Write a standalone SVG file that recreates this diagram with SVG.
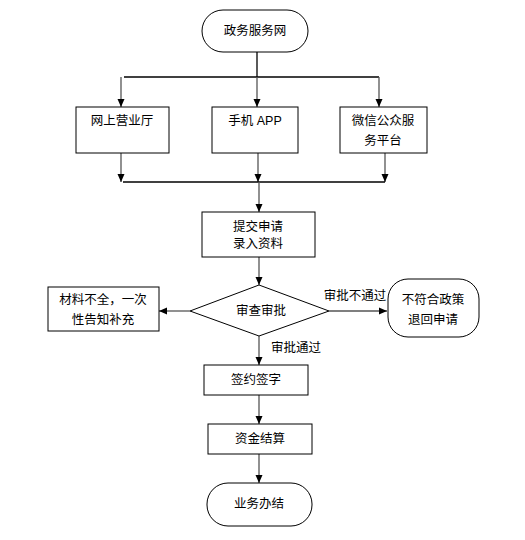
<svg xmlns="http://www.w3.org/2000/svg" width="525" height="540" viewBox="0 0 525 540">
<defs>
<marker id="ah" viewBox="0 0 8 8" refX="8" refY="4" markerWidth="8" markerHeight="8" markerUnits="userSpaceOnUse" orient="auto">
<path d="M0,0.5 L8,4 L0,7.5 Z" fill="#000"/>
</marker>
</defs>
<style>
.n{fill:#fff;stroke:#000;stroke-width:1}
.t{font-family:"Liberation Sans","Noto Sans CJK SC",sans-serif;font-size:12.5px;fill:#000;text-anchor:middle}
.c{fill:none;stroke:#555;stroke-width:1.3}
.k{fill:none;stroke:#000;stroke-width:1.3}
</style>
<rect width="525" height="540" fill="#fff"/>
<g id="connectors">
<path class="k" d="M257,52 V77"/>
<path class="k" d="M124,77 H379"/>
<path class="c" d="M121,77 V107" marker-end="url(#ah)"/>
<path class="c" d="M257,77 V107" marker-end="url(#ah)"/>
<path class="c" d="M379,77 V107" marker-end="url(#ah)"/>
<path class="c" d="M121,153 V182" marker-end="url(#ah)"/>
<path class="c" d="M258,153 V182" marker-end="url(#ah)"/>
<path class="c" d="M385,153 V182" marker-end="url(#ah)"/>
<path class="k" d="M123,182 H385"/>
<path class="c" d="M259,182 V212" marker-end="url(#ah)"/>
<path class="c" d="M259,257 V285" marker-end="url(#ah)"/>
<path class="c" d="M190,311 H159" marker-end="url(#ah)"/>
<path class="c" d="M329,311 H387" marker-end="url(#ah)"/>
<path class="c" d="M259,336 V365" marker-end="url(#ah)"/>
<path class="c" d="M259,395 V424" marker-end="url(#ah)"/>
<path class="c" d="M259,454 V483" marker-end="url(#ah)"/>
<text class="t" x="355" y="300">审批不通过</text>
<text class="t" x="296" y="352">审批通过</text>
</g>
<g id="start"><rect class="n" x="202" y="10" width="106" height="42" rx="21"/><text class="t" x="255" y="35">政务服务网</text></g>
<g id="web"><rect class="n" x="76" y="107" width="93" height="46"/><text class="t" x="122" y="125">网上营业厅</text></g>
<g id="app"><rect class="n" x="212" y="107" width="86" height="46"/><text class="t" x="255" y="125">手机 APP</text></g>
<g id="wechat"><rect class="n" x="340" y="107" width="87" height="46"/><text class="t" x="383" y="125">微信公众服</text><text class="t" x="383" y="145">务平台</text></g>
<g id="submit"><rect class="n" x="202" y="212" width="113" height="45"/><text class="t" x="258" y="231">提交申请</text><text class="t" x="258" y="248">录入资料</text></g>
<g id="review"><path class="n" d="M259,285 L329,311 L259,336 L190,311 Z"/><text class="t" x="261" y="315">审查审批</text></g>
<g id="supplement"><rect class="n" x="48" y="287" width="111" height="44"/><text class="t" x="103" y="304">材料不全，一次</text><text class="t" x="103" y="324">性告知补充</text></g>
<g id="reject"><rect class="n" x="388" y="279" width="91" height="58" rx="20"/><text class="t" x="433" y="304">不符合政策</text><text class="t" x="433" y="324">退回申请</text></g>
<g id="sign"><rect class="n" x="204" y="365" width="104" height="30"/><text class="t" x="256" y="384">签约签字</text></g>
<g id="settle"><rect class="n" x="208" y="424" width="104" height="30"/><text class="t" x="260" y="443">资金结算</text></g>
<g id="end"><rect class="n" x="207" y="483" width="105" height="43" rx="21"/><text class="t" x="259" y="508">业务办结</text></g>
</svg>
